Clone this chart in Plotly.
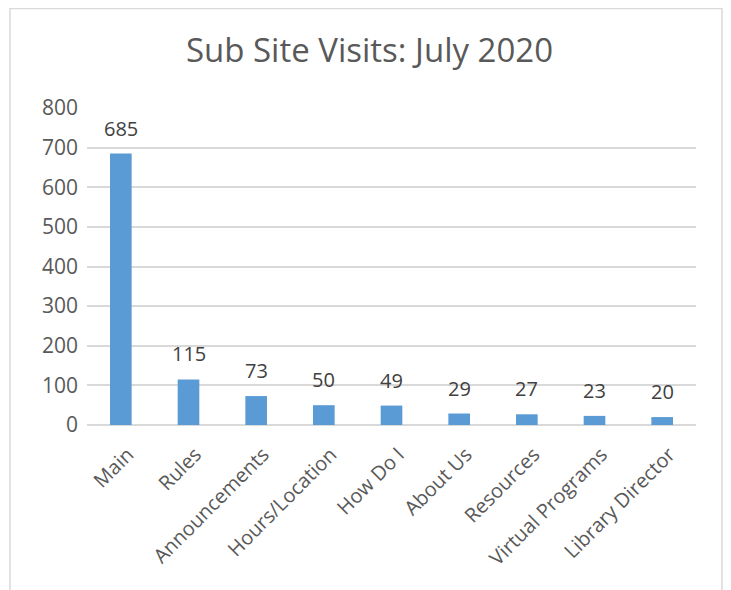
import plotly.graph_objects as go

categories = ["Main", "Rules", "Announcements", "Hours/Location", "How Do I",
              "About Us", "Resources", "Virtual Programs", "Library Director"]
visits = [685, 115, 73, 50, 49, 29, 27, 23, 20]
y_ticks = [0, 100, 200, 300, 400, 500, 600, 700, 800]

FONT = "Open Sans"
W, H = 723, 582          # page body has an 8px margin
L, R, T, B = 79, 35, 100, 165
PW, PH = W - L - R, H - T - B

fig = go.Figure(go.Bar(x=categories, y=visits, marker_color="#5B9BD5",
                       marker_line_width=0))

for c, v in zip(categories, visits):
    fig.add_annotation(x=c, y=v, text=str(v), showarrow=False, yanchor="bottom",
                       yshift=10, font=dict(family=FONT, size=20, color="#404040"))

fig.update_layout(
    width=W, height=H,
    margin=dict(l=L, r=R, t=T, b=B),
    paper_bgcolor="white", plot_bgcolor="white",
    bargap=0.68, showlegend=False,
    title=dict(text="Sub Site Visits: July 2020", x=0.5, xanchor="center",
               y=1 - 42/H, yanchor="middle",
               font=dict(family=FONT, size=33, color="#595959")),
    xaxis=dict(tickangle=-45, showgrid=False, showline=False, ticks="",
               automargin=False, ticklabelstandoff=13, ticklabelshift=7,
               tickfont=dict(family=FONT, size=20, color="#595959")),
    yaxis=dict(range=[0, 800], tickvals=y_ticks, showgrid=True,
               gridcolor="#D9D9D9", gridwidth=1.5, zeroline=True,
               zerolinecolor="#D9D9D9", zerolinewidth=1.5, showline=False,
               ticks="", ticklabelstandoff=8, automargin=False,
               tickfont=dict(family=FONT, size=21, color="#595959")),
    shapes=[dict(type="rect", xref="paper", yref="paper",
                 x0=(2 - L)/PW, x1=(714 - L)/PW,
                 y0=(H - B - 600)/PH, y1=(H - B - 0.5)/PH,
                 line=dict(color="#D9D9D9", width=1.5), fillcolor="rgba(0,0,0,0)",
                 layer="below")],
)

fig.write_html("out.html")
